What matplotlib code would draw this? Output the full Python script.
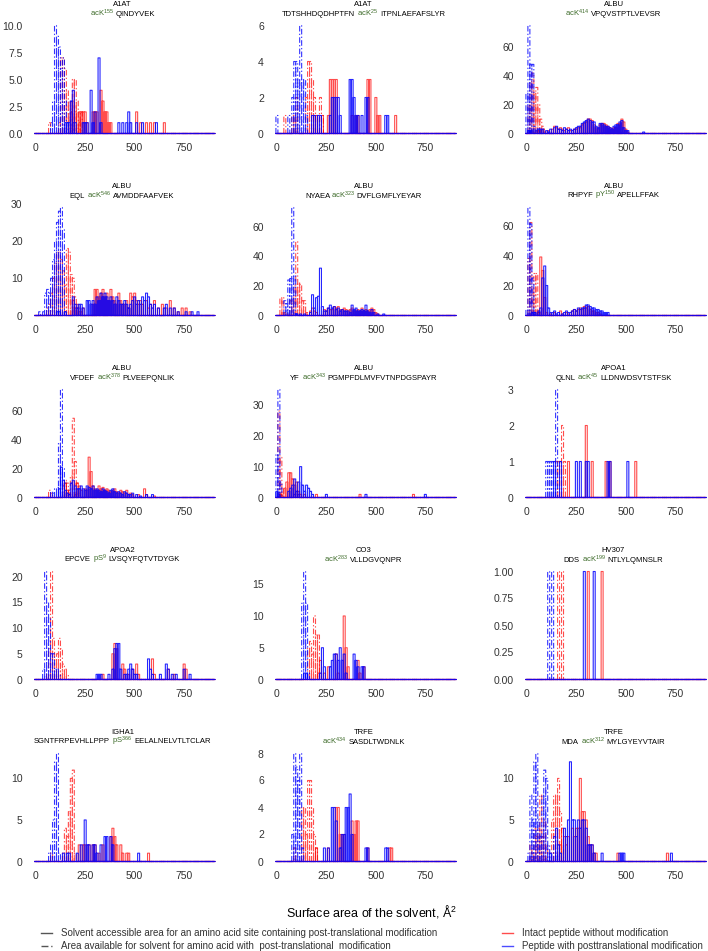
import numpy as np
import matplotlib
matplotlib.use("Agg")
import matplotlib.pyplot as plt
from matplotlib.offsetbox import TextArea, HPacker, AnchoredOffsetbox, DrawingArea
from matplotlib.lines import Line2D

plt.rcParams["font.family"] = ["Liberation Sans", "DejaVu Sans"]
plt.rcParams["mathtext.fontset"] = "custom"
plt.rcParams["mathtext.rm"] = "Liberation Sans"
plt.rcParams["mathtext.default"] = "regular"

# histogram counts per 10 A^2 bin: (bin centre, count)
# site_* = solid lines, aa_* = dash-dot lines; *_intact red, *_mod blue

# A1AT acK155
p1_aa_mod = [(80, 1), (90, 3), (100, 10), (110, 9), (120, 8), (130, 6), (140, 7), (150, 3), (160, 1), (180, 2), (190, 1)]
p1_aa_intact = [(70, 1), (120, 1), (130, 7), (140, 7), (150, 6), (160, 4), (170, 3), (180, 3), (190, 5), (200, 5), (210, 3), (220, 1), (230, 2)]
p1_site_mod = [(150, 1), (160, 1), (170, 1), (180, 3), (190, 4), (200, 1), (240, 1), (250, 1), (260, 1), (280, 4), (290, 1), (300, 2), (320, 7), (330, 1), (420, 1), (440, 1), (460, 1), (470, 2), (480, 1), (510, 1), (540, 1), (610, 1)]
p1_site_intact = [(180, 2), (190, 3), (200, 2), (220, 2), (230, 2), (240, 2), (250, 2), (260, 1), (290, 2), (300, 2), (310, 2), (330, 4), (340, 3), (350, 2), (360, 2), (370, 1), (380, 1), (510, 2), (530, 1), (560, 1), (580, 1), (600, 1), (650, 1)]

# A1AT acK25
p2_aa_mod = [(0, 1), (60, 1), (80, 2), (90, 4), (100, 4), (110, 3), (120, 6), (130, 3), (140, 3), (150, 1)]
p2_aa_intact = [(40, 1), (80, 1), (90, 1), (100, 2), (150, 2), (160, 4), (170, 4), (180, 3), (190, 2), (200, 1), (220, 2), (230, 1)]
p2_site_mod = [(180, 1), (190, 1), (210, 1), (220, 1), (270, 1), (280, 2), (290, 2), (300, 2), (310, 2), (320, 1), (370, 3), (380, 3), (390, 2), (400, 1), (410, 1), (430, 1), (450, 2), (460, 2), (550, 1), (560, 1)]
p2_site_intact = [(190, 1), (200, 1), (230, 1), (260, 1), (270, 3), (280, 3), (290, 3), (300, 3), (380, 1), (400, 1), (410, 1), (460, 3), (470, 3), (500, 2), (510, 1), (520, 1), (600, 1)]

# ALBU acK414
p3_aa_mod = [(0, 28), (10, 75), (20, 48), (30, 48), (40, 5), (50, 2), (60, 4)]
p3_aa_intact = [(10, 20), (20, 36), (30, 42), (40, 28), (50, 32), (60, 20), (70, 10), (80, 5), (90, 3)]
p3_site_mod = [(10, 2), (20, 2), (60, 3), (70, 3), (80, 3), (100, 2), (110, 1), (120, 3), (140, 4), (150, 5), (160, 3), (170, 3), (180, 2), (190, 4), (200, 3), (210, 2), (220, 3), (230, 2), (240, 3), (250, 4), (260, 5), (270, 5), (280, 7), (290, 8), (300, 9), (310, 10), (320, 9), (330, 8), (340, 8), (350, 5), (360, 4), (370, 7), (380, 7), (390, 6), (400, 5), (410, 5), (420, 4), (430, 3), (440, 5), (450, 6), (460, 6), (470, 8), (480, 9), (490, 4), (500, 2), (510, 2), (590, 1)]
p3_site_intact = [(60, 2), (70, 2), (90, 1), (110, 2), (130, 3), (140, 5), (150, 4), (160, 3), (170, 4), (180, 3), (190, 2), (200, 3), (210, 4), (220, 2), (240, 3), (250, 3), (260, 4), (270, 4), (280, 6), (290, 7), (300, 8), (310, 10), (320, 10), (330, 9), (340, 6), (350, 4), (360, 3), (370, 6), (380, 7), (390, 7), (400, 6), (410, 5), (420, 4), (430, 3), (440, 4), (450, 4), (460, 7), (470, 7), (480, 10), (490, 8), (500, 3), (510, 1)]

# ALBU acK546
p4_aa_mod = [(20, 1), (40, 1), (50, 6), (60, 7), (70, 6), (80, 10), (90, 15), (100, 20), (110, 25), (120, 28), (130, 29), (140, 23), (150, 1)]
p4_aa_intact = [(60, 2), (70, 3), (80, 6), (90, 10), (100, 14), (110, 17), (120, 17), (130, 15), (140, 12), (150, 8), (160, 18), (170, 17), (180, 11), (190, 10), (200, 5), (210, 2), (220, 1)]
p4_site_mod = [(110, 1), (120, 1), (150, 1), (190, 5), (200, 3), (210, 2), (220, 3), (230, 3), (240, 2), (260, 4), (270, 4), (280, 3), (290, 4), (300, 3), (310, 5), (320, 4), (330, 6), (340, 5), (350, 6), (360, 5), (370, 4), (380, 5), (390, 4), (400, 3), (410, 5), (420, 4), (430, 3), (440, 3), (450, 4), (460, 3), (470, 2), (480, 3), (490, 4), (500, 5), (510, 3), (520, 4), (530, 3), (540, 5), (550, 4), (560, 6), (570, 5), (580, 3), (590, 2), (600, 3), (620, 2), (650, 2), (660, 3), (680, 2), (700, 2), (720, 1), (760, 1), (790, 1), (820, 1)]
p4_site_intact = [(190, 4), (200, 2), (210, 3), (220, 2), (230, 1), (240, 2), (290, 3), (300, 7), (310, 7), (320, 5), (330, 6), (340, 7), (350, 5), (360, 6), (370, 4), (380, 7), (390, 5), (400, 4), (410, 3), (420, 6), (430, 4), (440, 3), (450, 3), (460, 4), (470, 2), (480, 6), (490, 5), (500, 6), (510, 4), (520, 3), (530, 4), (540, 3), (560, 4), (570, 2), (580, 3), (600, 4), (620, 2), (640, 3), (660, 2), (680, 4), (700, 2), (720, 1), (740, 2), (760, 2), (780, 1)]

# ALBU acK323
p5_aa_mod = [(40, 10), (50, 8), (60, 24), (70, 25), (80, 73), (90, 27), (100, 1)]
p5_aa_intact = [(20, 12), (30, 12), (40, 2), (50, 1), (70, 10), (80, 12), (90, 20), (100, 50), (110, 22), (120, 21), (130, 10), (140, 10), (150, 2)]
p5_site_mod = [(100, 1), (120, 1), (140, 1), (170, 2), (180, 14), (190, 5), (200, 12), (210, 13), (220, 32), (230, 6), (240, 3), (250, 3), (260, 5), (270, 7), (280, 5), (290, 6), (300, 4), (310, 5), (320, 3), (330, 4), (340, 3), (350, 3), (360, 3), (370, 2), (380, 7), (390, 4), (400, 5), (410, 3), (420, 3), (430, 4), (440, 3), (450, 7), (460, 3), (470, 2), (480, 4), (490, 2), (510, 1), (540, 1)]
p5_site_intact = [(150, 1), (170, 3), (180, 5), (190, 3), (200, 2), (240, 4), (250, 3), (260, 5), (270, 4), (280, 4), (290, 6), (300, 5), (310, 6), (320, 4), (330, 4), (340, 5), (350, 4), (360, 3), (370, 4), (380, 5), (390, 3), (400, 3), (410, 4), (420, 3), (430, 5), (440, 3), (450, 4), (460, 3), (470, 4), (480, 5), (490, 4), (500, 2), (510, 1)]

# ALBU pY150
p6_aa_mod = [(0, 4), (10, 72), (20, 61), (30, 25), (40, 2), (50, 1), (60, 2)]
p6_aa_intact = [(10, 38), (20, 62), (30, 15), (40, 28), (50, 28), (60, 3)]
p6_site_mod = [(30, 2), (40, 2), (60, 3), (70, 5), (80, 25), (90, 33), (100, 20), (110, 5), (120, 2), (130, 2), (140, 3), (150, 1), (160, 2), (180, 1), (190, 2), (200, 3), (210, 2), (220, 2), (230, 3), (240, 4), (250, 3), (260, 5), (270, 4), (280, 5), (290, 5), (300, 7), (310, 7), (320, 6), (330, 5), (340, 5), (350, 4), (360, 4), (370, 3), (380, 3), (390, 2), (400, 2), (410, 2)]
p6_site_intact = [(60, 2), (70, 39), (80, 30), (90, 12), (100, 2), (120, 1), (140, 2), (170, 3), (180, 1), (200, 2), (210, 1), (230, 3), (240, 4), (250, 3), (260, 4), (270, 5), (280, 4), (290, 6), (300, 5), (310, 6), (320, 4), (330, 3), (340, 3), (350, 2), (360, 2), (370, 1)]

# ALBU acK378
p7_aa_mod = [(80, 4), (90, 3), (100, 6), (110, 7), (120, 38), (130, 75), (140, 20), (150, 10), (160, 3), (170, 2)]
p7_aa_intact = [(70, 5), (80, 3), (140, 8), (150, 12), (160, 10), (170, 5), (180, 15), (190, 55), (200, 25), (210, 10), (220, 3)]
p7_site_mod = [(120, 6), (130, 21), (140, 12), (150, 5), (160, 3), (170, 2), (180, 10), (190, 12), (200, 8), (210, 6), (220, 6), (230, 8), (240, 6), (250, 5), (260, 8), (270, 7), (280, 6), (290, 8), (300, 5), (310, 6), (320, 5), (330, 4), (340, 6), (350, 5), (360, 4), (370, 3), (380, 5), (390, 6), (400, 4), (410, 3), (420, 4), (430, 3), (440, 2), (450, 4), (460, 3), (470, 2), (480, 2), (490, 3), (510, 2), (530, 1), (560, 2), (590, 2)]
p7_site_intact = [(150, 10), (160, 5), (170, 3), (200, 2), (210, 10), (220, 8), (230, 5), (250, 6), (260, 5), (270, 28), (280, 18), (290, 8), (300, 6), (310, 5), (320, 8), (330, 6), (340, 7), (350, 5), (360, 6), (370, 5), (380, 4), (390, 5), (400, 6), (410, 4), (420, 3), (430, 5), (440, 4), (450, 3), (460, 5), (470, 2), (480, 3), (490, 2), (520, 2), (550, 6), (560, 2), (600, 1)]

# ALBU acK343
p8_aa_mod = [(0, 14), (10, 35), (20, 5), (90, 1), (100, 2), (110, 1)]
p8_aa_intact = [(10, 28), (20, 13), (30, 3)]
p8_site_mod = [(0, 2), (10, 1), (60, 2), (70, 3), (80, 4), (90, 6), (100, 2), (110, 5), (120, 10), (130, 4), (140, 2), (150, 4), (160, 3), (170, 2), (180, 1), (250, 1), (450, 1), (750, 1)]
p8_site_intact = [(20, 1), (40, 3), (50, 5), (60, 8), (70, 8), (80, 6), (90, 4), (100, 5), (110, 2), (120, 1), (140, 1), (200, 1), (420, 1), (690, 1)]

# APOA1 acK45
p9_aa_mod = [(100, 1), (110, 1), (120, 1), (130, 1), (150, 3)]
p9_aa_intact = [(150, 1), (160, 1), (170, 1), (180, 2), (190, 1)]
p9_site_mod = [(140, 1), (170, 1), (250, 1), (270, 1), (300, 1), (310, 1), (410, 1), (420, 1), (510, 1)]
p9_site_intact = [(210, 1), (300, 2), (330, 1), (400, 1), (420, 1), (550, 1)]

# APOA2 pS9
p10_aa_mod = [(40, 2), (50, 21), (60, 15), (70, 12), (80, 5), (90, 5), (100, 2), (110, 2), (120, 1)]
p10_aa_intact = [(60, 1), (70, 6), (80, 21), (90, 8), (100, 4), (110, 5), (120, 8), (130, 6), (140, 3), (150, 2), (160, 1)]
p10_site_mod = [(310, 1), (320, 1), (330, 1), (370, 1), (390, 2), (400, 6), (410, 7), (420, 7), (430, 2), (450, 1), (460, 1), (470, 2), (480, 3), (490, 2), (500, 1), (510, 1), (570, 4), (580, 2), (590, 1), (630, 1), (660, 3), (670, 2), (690, 1), (710, 1), (750, 2), (780, 1)]
p10_site_intact = [(340, 1), (390, 5), (400, 7), (410, 6), (440, 3), (450, 2), (470, 1), (490, 2), (510, 3), (520, 1), (590, 4), (600, 1), (670, 2), (700, 1), (750, 3), (760, 2)]

# CO3 acK283
p11_aa_mod = [(130, 12), (140, 17), (150, 12), (160, 1)]
p11_aa_intact = [(160, 5), (170, 6), (180, 4), (190, 10), (200, 7), (210, 7), (220, 1)]
p11_site_mod = [(140, 1), (150, 1), (220, 1), (230, 5), (240, 2), (270, 2), (280, 3), (290, 4), (300, 4), (310, 3), (320, 5), (330, 3), (340, 4), (350, 1), (390, 4), (400, 3), (410, 2), (430, 2), (440, 2)]
p11_site_intact = [(210, 1), (220, 3), (240, 1), (260, 2), (300, 4), (310, 1), (340, 10), (350, 5), (360, 2), (410, 3), (420, 1), (440, 2)]

# HV307 acK199
p12_aa_mod = [(110, 1), (130, 1)]
p12_aa_intact = [(160, 1), (180, 1)]
p12_site_mod = [(290, 1), (340, 1)]
p12_site_intact = [(310, 1), (380, 1)]

# IGHA1 pS366
p13_aa_mod = [(70, 1), (80, 2), (90, 5), (100, 12), (110, 13), (120, 1)]
p13_aa_intact = [(80, 1), (140, 1), (150, 4), (160, 3), (170, 6), (180, 10), (190, 11), (200, 1)]
p13_site_mod = [(140, 1), (160, 1), (170, 1), (210, 1), (230, 2), (250, 5), (260, 2), (270, 2), (290, 2), (300, 2), (310, 1), (330, 2), (350, 3), (360, 3), (380, 3), (390, 2), (520, 1)]
p13_site_intact = [(220, 2), (240, 2), (250, 2), (270, 2), (290, 2), (300, 2), (320, 1), (340, 2), (380, 3), (390, 4), (400, 3), (410, 2), (430, 2), (440, 1), (460, 1), (470, 1), (570, 1)]

# TRFE acK434
p14_aa_mod = [(80, 2), (90, 8), (100, 7), (110, 6), (120, 8), (130, 1)]
p14_aa_intact = [(90, 1), (130, 4), (140, 4), (150, 2), (160, 6), (170, 6), (180, 4), (190, 2), (200, 1)]
p14_site_mod = [(240, 1), (260, 1), (280, 4), (290, 4), (300, 3), (320, 1), (330, 2), (340, 2), (350, 4), (360, 4), (370, 5), (380, 2), (450, 1), (460, 1), (550, 1), (560, 1)]
p14_site_intact = [(200, 1), (260, 1), (300, 4), (310, 4), (320, 2), (330, 2), (340, 2), (380, 3), (390, 2), (400, 3), (410, 3), (460, 1), (570, 1), (580, 1)]

# TRFE acK312
p15_aa_mod = [(10, 1), (20, 8), (30, 5), (40, 12), (50, 13), (60, 5), (70, 3), (80, 8), (90, 11), (100, 10), (110, 2), (120, 1), (140, 3), (150, 1)]
p15_aa_intact = [(20, 2), (30, 1), (40, 4), (50, 3), (60, 4), (70, 8), (80, 3), (90, 5), (100, 2), (130, 5), (140, 8), (150, 8), (160, 10), (170, 6), (180, 2)]
p15_site_mod = [(120, 1), (150, 4), (160, 2), (170, 1), (190, 4), (200, 3), (210, 5), (220, 12), (230, 5), (240, 5), (250, 3), (260, 5), (270, 4), (280, 5), (290, 5), (300, 4), (310, 2), (320, 2), (330, 2), (340, 1), (380, 1), (470, 1), (480, 1), (490, 1), (730, 1)]
p15_site_intact = [(170, 2), (180, 4), (190, 3), (200, 2), (210, 3), (230, 4), (240, 3), (250, 4), (260, 4), (270, 10), (280, 6), (290, 6), (300, 5), (310, 3), (320, 2), (330, 2), (340, 1), (350, 1), (460, 1), (710, 1)]

proteins = ["A1AT", "A1AT", "ALBU", "ALBU", "ALBU", "ALBU", "ALBU", "ALBU", "APOA1",
            "APOA2", "CO3", "HV307", "IGHA1", "TRFE", "TRFE"]
seq_before = ["", "TDTSHHDQDHPTFN ", "", "EQL ", "NYAEA", "RHPYF ", "VFDEF ", "YF ", "QLNL ",
              "EPCVE ", "", "DDS ", "SGNTFRPEVHLLPPP ", "", "MDA "]
mods = ["acK", "acK", "acK", "acK", "acK", "pY", "acK", "acK", "acK", "pS", "acK", "acK", "pS", "acK", "acK"]
sites = ["155", "25", "414", "546", "323", "150", "378", "343", "45", "9", "283", "199", "366", "434", "312"]
seq_after = [" QINDYVEK", " ITPNLAEFAFSLYR", " VPQVSTPTLVEVSR", " AVMDDFAAFVEK", " DVFLGMFLYEYAR",
             " APELLFFAK", " PLVEEPQNLIK", " PGMPFDLMVFVTNPDGSPAYR", " LLDNWDSVTSTFSK",
             " LVSQYFQTVTDYGK", " VLLDGVQNPR", " NTLYLQMNSLR", " EELALNELVTLTCLAR",
             " SASDLTWDNLK", " MYLGYEYVTAIR"]

y_ticks = [[0, 2.5, 5, 7.5, 10], [0, 2, 4, 6], [0, 20, 40, 60], [0, 10, 20, 30], [0, 20, 40, 60],
           [0, 20, 40, 60], [0, 20, 40, 60], [0, 10, 20, 30], [0, 1, 2, 3], [0, 5, 10, 15, 20],
           [0, 5, 10, 15], [0, 0.25, 0.5, 0.75, 1], [0, 5, 10], [0, 2, 4, 6, 8], [0, 5, 10]]
y_labels = [["0.0", "2.5", "5.0", "7.5", "10.0"], None, None, None, None, None, None, None, None,
            None, None, ["0.00", "0.25", "0.50", "0.75", "1.00"], None, None, None]
x_ticks = [0, 250, 500, 750]

aa_mod = [p1_aa_mod, p2_aa_mod, p3_aa_mod, p4_aa_mod, p5_aa_mod, p6_aa_mod, p7_aa_mod, p8_aa_mod,
          p9_aa_mod, p10_aa_mod, p11_aa_mod, p12_aa_mod, p13_aa_mod, p14_aa_mod, p15_aa_mod]
aa_intact = [p1_aa_intact, p2_aa_intact, p3_aa_intact, p4_aa_intact, p5_aa_intact, p6_aa_intact,
             p7_aa_intact, p8_aa_intact, p9_aa_intact, p10_aa_intact, p11_aa_intact, p12_aa_intact,
             p13_aa_intact, p14_aa_intact, p15_aa_intact]
site_mod = [p1_site_mod, p2_site_mod, p3_site_mod, p4_site_mod, p5_site_mod, p6_site_mod, p7_site_mod,
            p8_site_mod, p9_site_mod, p10_site_mod, p11_site_mod, p12_site_mod, p13_site_mod,
            p14_site_mod, p15_site_mod]
site_intact = [p1_site_intact, p2_site_intact, p3_site_intact, p4_site_intact, p5_site_intact,
               p6_site_intact, p7_site_intact, p8_site_intact, p9_site_intact, p10_site_intact,
               p11_site_intact, p12_site_intact, p13_site_intact, p14_site_intact, p15_site_intact]

RED = "#FF0000"
BLUE = "#0000FF"
GREEN = "#3C6A28"
TXT = "#333333"
DASHDOT = (0, (5, 2, 1.2, 2))
BIN = 10
centers = np.arange(0, 910, BIN)


def full_counts(pairs):
    c = np.zeros(len(centers))
    for x, n in pairs:
        c[x // BIN] = n
    return c


def outline(counts):
    # rectangle outline of every bin, NaN-separated, like an unfilled histogram
    xs, ys = [], []
    for x, h in zip(centers, counts):
        x0, x1 = x - BIN / 2, x + BIN / 2
        xs += [x0, x0, x1, x1, np.nan]
        ys += [0, h, h, 0, np.nan]
    xs += [centers[0] - BIN / 2, centers[-1] + BIN / 2]
    ys += [0, 0]
    return np.array(xs), np.array(ys)


def spacer():
    return DrawingArea(1.5, 1, 0, 0)


def seq_line(i):
    tp = dict(fontsize=5.5, color="black")
    gp = dict(fontsize=5.5, color=GREEN)
    parts = []
    if seq_before[i].strip():
        parts.append(TextArea(seq_before[i].strip(), textprops=tp))
        if seq_before[i].endswith(" "):
            parts.append(spacer())
    parts.append(TextArea(mods[i] + "$^{" + sites[i] + "}$", textprops=gp))
    parts.append(spacer())
    parts.append(TextArea(seq_after[i].strip(), textprops=tp))
    return HPacker(children=parts, align="baseline", pad=0, sep=0)


W, H = 708.0, 951.0
col_left = [26.8, 268.0, 518.0]
row_zero = [133.5, 315.5, 497.5, 679.5, 861.5]
ax_w = 191.0
ax_h = 118.8

fig = plt.figure(figsize=(7.08, 9.51), dpi=100)

for i in range(15):
    r, c = divmod(i, 3)
    bottom = row_zero[r] + 5.4
    ax = fig.add_axes([col_left[c] / W, 1 - bottom / H, ax_w / W, ax_h / H])

    series = [(aa_intact[i], RED, DASHDOT, 0.7), (aa_mod[i], BLUE, DASHDOT, 0.8),
              (site_intact[i], RED, "-", 0.7), (site_mod[i], BLUE, "-", 0.85)]
    top_val = 0
    for pairs, colr, ls, a in series:
        counts = full_counts(pairs)
        top_val = max(top_val, counts.max())
        xs, ys = outline(counts)
        ax.plot(xs, ys, color=colr, lw=0.8, linestyle=ls, alpha=a, snap=False)

    ax.set_xlim(-45, 920)
    ax.set_ylim(-0.05 * top_val, 1.05 * top_val)
    ax.set_xticks(x_ticks)
    ax.set_yticks(y_ticks[i])
    if y_labels[i] is not None:
        ax.set_yticklabels(y_labels[i])
    ax.tick_params(length=0, labelsize=7.5, colors=TXT, pad=3)
    for s in ax.spines.values():
        s.set_visible(False)

    ax.annotate(proteins[i], xy=(0.5, 1), xycoords="axes fraction", xytext=(0, 16 * 0.72),
                textcoords="offset points", ha="center", va="center", fontsize=5.5)
    box = AnchoredOffsetbox(loc="center", child=seq_line(i), pad=0, borderpad=0,
                            frameon=False, bbox_to_anchor=(0.5, 1 + 7.0 / ax_h),
                            bbox_transform=ax.transAxes)
    ax.add_artist(box)

fig.text(372 / W, 1 - 911 / H, "Surface area of the solvent, Å$^{2}$", ha="center", va="center",
         fontsize=9, color="black")

handles = [Line2D([], [], color="#555555", lw=1),
           Line2D([], [], color="#555555", lw=1, linestyle=DASHDOT),
           Line2D([], [], color=RED, lw=1, alpha=0.7),
           Line2D([], [], color=BLUE, lw=1, alpha=0.7)]
labels = ["Solvent accessible area for an amino acid site containing post-translational modification",
          "Area available for solvent for amino acid with  post-translational  modification",
          "Intact peptide without modification",
          "Peptide with posttranslational modification"]
fig.legend(handles, labels, loc="upper left", bbox_to_anchor=(41 / W, 1 - 928 / H), ncol=2,
           frameon=False, fontsize=7.0, handlelength=1.1, handletextpad=1.0,
           labelspacing=0.35, columnspacing=6.6, borderaxespad=0, borderpad=0,
           labelcolor=TXT)

fig.savefig("out.png", dpi=100)
